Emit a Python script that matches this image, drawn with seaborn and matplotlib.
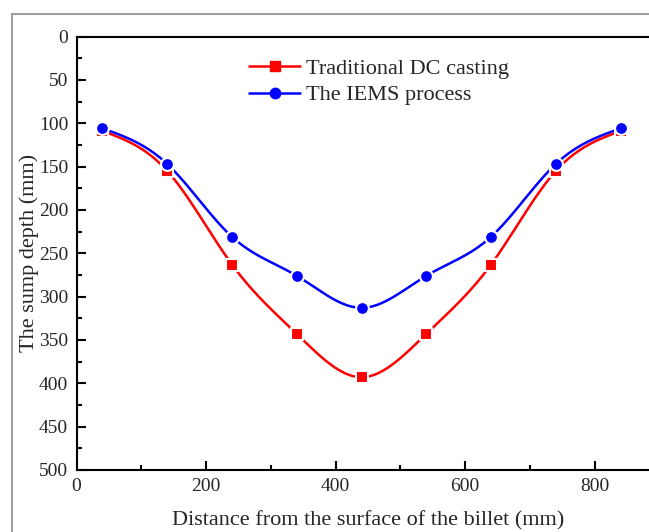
import numpy as np
import pandas as pd
import seaborn as sns
import matplotlib.pyplot as plt
from matplotlib.patches import Rectangle
from matplotlib.ticker import MultipleLocator

# distance from billet surface (mm)
distance = [40, 140, 240, 340, 440, 540, 640, 740, 840]
# sump depth (mm)
dc_depth = [109, 155, 263, 343, 393, 343, 263, 155, 109]
iems_depth = [106, 147, 231, 276, 313, 276, 231, 147, 106]

labels = ["Traditional DC casting", "The IEMS process"]
colors = ["#ff0000", "#0000ff"]
markers = ["s", "o"]


def smooth(x, y, n=300):
    """Natural cubic spline through the points, only for drawing the curve."""
    x = np.asarray(x, float)
    y = np.asarray(y, float)
    k = len(x)
    h = np.diff(x)
    A = np.zeros((k, k))
    b = np.zeros(k)
    A[0, 0] = A[-1, -1] = 1
    for i in range(1, k - 1):
        A[i, i - 1] = h[i - 1]
        A[i, i] = 2 * (h[i - 1] + h[i])
        A[i, i + 1] = h[i]
        b[i] = 6 * ((y[i + 1] - y[i]) / h[i] - (y[i] - y[i - 1]) / h[i - 1])
    m = np.linalg.solve(A, b)
    xs = np.linspace(x[0], x[-1], n)
    idx = np.clip(np.searchsorted(x, xs) - 1, 0, k - 2)
    t0 = xs - x[idx]
    t1 = x[idx + 1] - xs
    hh = h[idx]
    ys = (m[idx] * t1 ** 3 + m[idx + 1] * t0 ** 3) / (6 * hh) \
        + (y[idx] / hh - m[idx] * hh / 6) * t1 \
        + (y[idx + 1] / hh - m[idx + 1] * hh / 6) * t0
    return xs, ys


df = pd.DataFrame({
    "distance": distance * 2,
    "depth": dc_depth + iems_depth,
    "series": [labels[0]] * len(distance) + [labels[1]] * len(distance),
})

sns.set_theme(style="ticks")
plt.rcParams['font.family'] = ['Liberation Serif', 'DejaVu Serif']

fig = plt.figure(figsize=(6.49, 5.32), dpi=100)
# grey frame of the original figure (cropped at right and bottom)
fig.patches.append(Rectangle((12 / 649, -0.1), 1.2, 1 - 14 / 532 + 0.1,
                             transform=fig.transFigure, fill=False,
                             edgecolor="#a0a0a0", linewidth=1.5))
ax = fig.add_axes([76.5 / 649, 62 / 532, 583 / 649, 433.5 / 532])

for lab, col, mk in zip(labels, colors, markers):
    sub = df[df["series"] == lab]
    xs, ys = smooth(sub["distance"], sub["depth"])
    sns.lineplot(x=xs, y=ys, ax=ax, color=col, linewidth=1.8, zorder=2)
    sns.scatterplot(data=sub, x="distance", y="depth", ax=ax, color=col,
                    marker=mk, s=85, edgecolor="white", linewidth=1.5, zorder=3)

# legend handles
for lab, col, mk in zip(labels, colors, markers):
    ax.plot([], [], color=col, marker=mk, markersize=7.5, linewidth=1.8, label=lab)
h, l = ax.get_legend_handles_labels()
ax.legend(h[-2:], l[-2:], loc="upper left", bbox_to_anchor=(0.262, 0.995),
          frameon=False, fontsize=16, handlelength=2.3, handletextpad=0.25,
          labelspacing=0.25)

ax.set_xlim(0, 900)
ax.set_ylim(500, 0)
ax.xaxis.set_major_locator(MultipleLocator(200))
ax.xaxis.set_minor_locator(MultipleLocator(100))
ax.yaxis.set_major_locator(MultipleLocator(50))
ax.yaxis.set_minor_locator(MultipleLocator(25))
ax.tick_params(which="both", direction="in", labelsize=14, width=1.5, color="black")
ax.tick_params(which="major", length=6.5)
ax.tick_params(which="minor", length=3.5)
ax.tick_params(axis="x", which="major", pad=6)
ax.tick_params(axis="y", which="major", pad=6)
for s in ax.spines.values():
    s.set_linewidth(1.5)
    s.set_color("black")

ax.set_xlabel("Distance from the surface of the billet (mm)", fontsize=16, labelpad=11)
ax.set_ylabel("The sump depth (mm)", fontsize=16, labelpad=-0.5)

fig.savefig("out.png", dpi=100)
